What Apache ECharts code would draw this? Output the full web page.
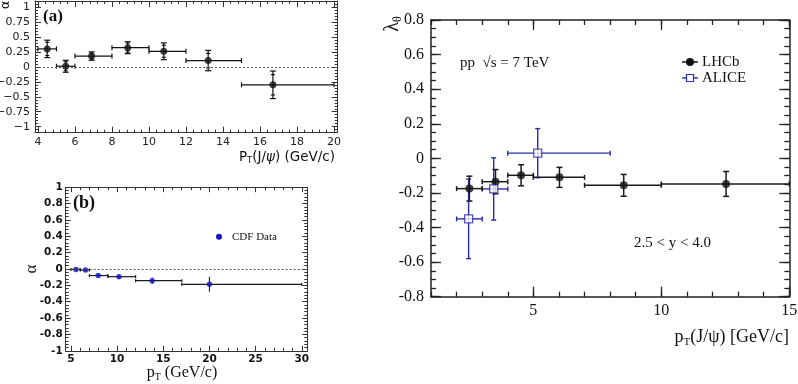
<!DOCTYPE html>
<html lang="en">
<head>
<meta charset="UTF-8">
<title>J/psi polarisation</title>
<script src="https://cdn.jsdelivr.net/npm/echarts@6.0.0/dist/echarts.min.js"></script>
<style>
  html, body { margin: 0; padding: 0; background: #fff; }
  #main { width: 798px; height: 384px; }
</style>
</head>
<body>
<div id="main"></div>
<script>
// ---- panel (a): alpha vs pT ----
var aX    = [4.5, 5.5, 6.9, 8.85, 10.8, 13.2, 16.7];
var aY    = [0.30, 0.01, 0.18, 0.32, 0.26, 0.105, -0.30];
var aXLo  = [4, 5, 6, 8, 10, 12, 15];
var aXHi  = [5, 6, 8, 10, 12, 15, 20];
var aErr  = [0.145, 0.10, 0.07, 0.10, 0.14, 0.17, 0.23];
var aStat = [0.11, 0.075, 0.05, 0.075, 0.10, 0.12, 0.17];
var aXTicks = [4, 6, 8, 10, 12, 14, 16, 18, 20];
var aYTicks = [-1, -0.75, -0.5, -0.25, 0, 0.25, 0.5, 0.75, 1];

// ---- panel (b): CDF data ----
var bX    = [5.54, 6.58, 7.95, 10.2, 13.8, 20.0];
var bY    = [-0.005, -0.012, -0.08, -0.094, -0.143, -0.187];
var bXLo  = [5, 6, 7, 9, 12, 17];
var bXHi  = [6, 7, 9, 12, 17, 30];
var bErr  = [0.02, 0.02, 0.02, 0.025, 0.04, 0.09];
var bXTicks = [5, 10, 15, 20, 25, 30];
var bYTicks = [-1, -0.8, -0.6, -0.4, -0.2, 0, 0.2, 0.4, 0.6, 0.8, 1];

// ---- panel (c): lambda_theta, LHCb vs ALICE ----
var lhcbX   = [2.5, 3.52, 4.52, 6.02, 8.53, 12.53];
var lhcbY   = [-0.175, -0.135, -0.098, -0.11, -0.156, -0.148];
var lhcbXLo = [2, 3, 4, 5, 7, 10];
var lhcbXHi = [3, 4, 5, 7, 10, 15];
var lhcbErr = [0.072, 0.07, 0.061, 0.058, 0.063, 0.072];
var aliceX   = [2.47, 3.45, 5.17];
var aliceY   = [-0.35, -0.177, 0.03];
var aliceXLo = [2, 3, 4];
var aliceXHi = [3, 4, 8];
var aliceErr = [0.23, 0.18, 0.142];
var cXTicks = [5, 10, 15];
var cYTicks = [-0.8, -0.6, -0.4, -0.2, 0, 0.2, 0.4, 0.6, 0.8];

function steps(from, to, step) {
  var out = [];
  for (var v = from; v <= to + 1e-9; v += step) out.push(Math.round(v * 1e6) / 1e6);
  return out;
}

var grids = [], xAxes = [], yAxes = [];
// each panel = two grids on the same rect: one for the frame + major ticks
// (series live here), one for the minor ticks only
function frame(rect, o) {
  var g = grids.length;
  rect.outerBoundsMode = 'none';   // v6 would otherwise squeeze the grid to fit labels
  rect.containLabel = false;
  grids.push(rect, Object.assign({}, rect));
  var xi = xAxes.length, yi = yAxes.length;
  var line = { show: true, onZero: false, lineStyle: { color: o.color, width: o.lineW } };
  var noLine = { show: false, onZero: false };
  var tk = function (vals, len) {
    return { show: true, inside: true, length: len, customValues: vals, lineStyle: { color: o.color, width: o.tickW } };
  };
  var bx = function (gi) { return { type: 'value', gridIndex: gi, min: o.xr[0], max: o.xr[1], splitLine: { show: false } }; };
  var by = function (gi) { return { type: 'value', gridIndex: gi, min: o.yr[0], max: o.yr[1], splitLine: { show: false } }; };
  xAxes.push(
    Object.assign(bx(g), { position: 'bottom', axisLine: line, axisTick: tk(o.xMaj, o.majLen),
      axisLabel: Object.assign({ customValues: o.xMaj, margin: o.xMargin, formatter: o.xFmt }, o.label) }),
    Object.assign(bx(g), { position: 'top', axisLine: line, axisTick: tk(o.xMaj, o.majLen), axisLabel: { show: false } }),
    Object.assign(bx(g + 1), { position: 'bottom', axisLine: noLine, axisTick: tk(o.xMin, o.minLen), axisLabel: { show: false } }),
    Object.assign(bx(g + 1), { position: 'top', axisLine: noLine, axisTick: tk(o.xMin, o.minLen), axisLabel: { show: false } })
  );
  yAxes.push(
    Object.assign(by(g), { position: 'left', axisLine: line, axisTick: tk(o.yMaj, o.majLen),
      axisLabel: Object.assign({ customValues: o.yMaj, margin: o.yMargin, formatter: o.yFmt }, o.label) }),
    Object.assign(by(g), { position: 'right', axisLine: line, axisTick: tk(o.yMaj, o.majLen), axisLabel: { show: false } }),
    Object.assign(by(g + 1), { position: 'left', axisLine: noLine, axisTick: tk(o.yMin, o.minLen), axisLabel: { show: false } }),
    Object.assign(by(g + 1), { position: 'right', axisLine: noLine, axisTick: tk(o.yMin, o.minLen), axisLabel: { show: false } })
  );
  return { x: xi, y: yi };
}

var fa = frame({ left: 35, top: 1, width: 302.7, height: 131.7 }, {
  xr: [3.84, 20.2], yr: [-1.1, 1.1], xMaj: aXTicks, xMin: steps(4, 20, 0.4),
  yMaj: aYTicks, yMin: steps(-1.1, 1.1, 0.05), majLen: 6, minLen: 3, color: '#333', lineW: 1, tickW: 1,
  xMargin: 4, yMargin: 5,
  xFmt: function (v) { return String(v); },
  yFmt: function (v) { return v < 0 ? '\u2212' + String(-v) : String(v); },
  label: { fontFamily: 'DejaVu Sans', fontSize: 11, color: '#222' }
});
var fb = frame({ left: 65.7, top: 187.2, width: 241.6, height: 163.6 }, {
  xr: [4.43, 30.6], yr: [-1, 1], xMaj: bXTicks, xMin: steps(5, 30, 1),
  yMaj: bYTicks, yMin: steps(-1, 1, 0.04), majLen: 5, minLen: 3, color: '#333', lineW: 1, tickW: 1,
  xMargin: 3, yMargin: 3,
  xFmt: function (v) { return String(v); },
  yFmt: function (v) { return String(v); },
  label: { fontFamily: 'DejaVu Sans', fontWeight: 'bold', fontSize: 10.5, color: '#111' }
});
var fc = frame({ left: 431, top: 20, width: 358.3, height: 276.7 }, {
  xr: [1, 15], yr: [-0.8, 0.8], xMaj: cXTicks, xMin: steps(1, 15, 1),
  yMaj: cYTicks, yMin: steps(-0.8, 0.8, 0.05), majLen: 10, minLen: 5, color: '#222', lineW: 1.5, tickW: 1.3,
  xMargin: 6, yMargin: 7,
  xFmt: function (v) { return String(v); },
  yFmt: function (v) { return v === 0 ? '0' : v.toFixed(1); },
  label: { fontFamily: 'Liberation Serif', fontSize: 16, color: '#111' }
});

function errSeries(ax, xs, ys, xlo, xhi, err, stat, o) {
  var data = xs.map(function (x, i) {
    return [x, ys[i], xlo[i], xhi[i], ys[i] - err[i], ys[i] + err[i],
      stat ? ys[i] - stat[i] : NaN, stat ? ys[i] + stat[i] : NaN];
  });
  return {
    type: 'custom', xAxisIndex: ax.x, yAxisIndex: ax.y, data: data, z: 2, clip: false,
    encode: { x: 0, y: 1 },
    renderItem: function (params, api) {
      var x = api.value(0), y = api.value(1);
      var l = api.coord([api.value(2), y]), r = api.coord([api.value(3), y]);
      var b = api.coord([x, api.value(4)]), t = api.coord([x, api.value(5)]);
      var hs = { stroke: o.hColor, lineWidth: o.w };
      var vs = { stroke: o.vColor, lineWidth: o.w };
      var seg = function (x1, y1, x2, y2, s) { return { type: 'line', shape: { x1: x1, y1: y1, x2: x2, y2: y2 }, style: s }; };
      var kids = [seg(l[0], l[1], r[0], r[1], hs), seg(t[0], t[1], b[0], b[1], vs)];
      if (o.hcap) {
        kids.push(seg(l[0], l[1] - o.hcap, l[0], l[1] + o.hcap, hs));
        kids.push(seg(r[0], r[1] - o.hcap, r[0], r[1] + o.hcap, hs));
      }
      if (o.vcap) {
        kids.push(seg(t[0] - o.vcap, t[1], t[0] + o.vcap, t[1], vs));
        kids.push(seg(b[0] - o.vcap, b[1], b[0] + o.vcap, b[1], vs));
      }
      if (!isNaN(api.value(6))) {
        var s1 = api.coord([x, api.value(6)]), s2 = api.coord([x, api.value(7)]);
        kids.push(seg(s1[0] - o.scap, s1[1], s1[0] + o.scap, s1[1], vs));
        kids.push(seg(s2[0] - o.scap, s2[1], s2[0] + o.scap, s2[1], vs));
      }
      return { type: 'group', children: kids };
    }
  };
}

function pts(ax, xs, ys, o) {
  return Object.assign({
    type: 'scatter', xAxisIndex: ax.x, yAxisIndex: ax.y, z: 3, silent: true,
    data: xs.map(function (x, i) { return [x, ys[i]]; })
  }, o);
}

var zeroLine = {
  silent: true, symbol: 'none', label: { show: false },
  lineStyle: { color: '#555', type: [2, 2], width: 1 },
  data: [{ yAxis: 0 }]
};

var serif = 'Liberation Serif';
var chart = echarts.init(document.getElementById('main'), null, { renderer: 'canvas' });
chart.setOption({
  animation: false,
  backgroundColor: '#fff',
  grid: grids,
  xAxis: xAxes,
  yAxis: yAxes,
  series: [
    errSeries(fa, aX, aY, aXLo, aXHi, aErr, aStat, { hColor: '#111', vColor: '#111', w: 1.2, hcap: 2.5, vcap: 3, scap: 2 }),
    pts(fa, aX, aY, { symbol: 'circle', symbolSize: 7, itemStyle: { color: '#111' }, markLine: zeroLine }),

    errSeries(fb, bX, bY, bXLo, bXHi, bErr, null, { hColor: '#1a1a1a', vColor: '#22225a', w: 1.2, hcap: 1.5, vcap: 0 }),
    pts(fb, bX, bY, { symbol: 'circle', symbolSize: 5.5, itemStyle: { color: '#1515c8' }, markLine: zeroLine }),

    errSeries(fc, aliceX, aliceY, aliceXLo, aliceXHi, aliceErr, null, { hColor: '#2b2ba8', vColor: '#2b2ba8', w: 1.4, hcap: 2.5, vcap: 2.5 }),
    errSeries(fc, lhcbX, lhcbY, lhcbXLo, lhcbXHi, lhcbErr, null, { hColor: '#1a1a1a', vColor: '#1a1a1a', w: 1.5, hcap: 2.5, vcap: 3 }),
    pts(fc, lhcbX, lhcbY, { symbol: 'circle', symbolSize: 8, itemStyle: { color: '#111' } }),
    pts(fc, aliceX, aliceY, { symbol: 'rect', symbolSize: 8, itemStyle: { color: '#fff', borderColor: '#2b2ba8', borderWidth: 1.3 } })
  ],
  graphic: [
    // panel (a) labels
    { type: 'text', x: 43, y: 17, style: { text: '(a)', font: 'bold 17px "Liberation Serif"', fill: '#111', verticalAlign: 'middle' } },
    { type: 'text', x: 6, y: 5, rotation: Math.PI / 2, style: { text: '\u03b1', font: '13px "DejaVu Sans"', fill: '#111', align: 'center', verticalAlign: 'middle' } },
    { type: 'text', x: 335, y: 157, style: {
      text: '{m|P}{s|T}{m|(J/}{i|\u03c8}{m|) (GeV/c)}', align: 'right', verticalAlign: 'middle',
      rich: {
        m: { fontFamily: 'DejaVu Sans', fontSize: 13.5, lineHeight: 18, fill: '#111' },
        i: { fontFamily: 'DejaVu Sans', fontStyle: 'italic', fontSize: 13.5, lineHeight: 18, fill: '#111' },
        s: { fontFamily: 'DejaVu Sans', fontSize: 8.5, lineHeight: 9, padding: [7, 0, 0, 0], fill: '#111' }
      } } },

    // panel (b) labels
    { type: 'text', x: 73, y: 203, style: { text: '(b)', font: 'bold 18px "Liberation Serif"', fill: '#111', verticalAlign: 'middle' } },
    { type: 'text', x: 32, y: 269, rotation: Math.PI / 2, style: { text: '\u03b1', font: '17px "Liberation Serif"', fill: '#111', align: 'center', verticalAlign: 'middle' } },
    { type: 'circle', shape: { cx: 219, cy: 236.7, r: 3 }, style: { fill: '#1515c8' } },
    { type: 'text', x: 232, y: 237, style: { text: 'CDF Data', font: '11px "Liberation Serif"', fill: '#111', verticalAlign: 'middle' } },
    { type: 'text', x: 182, y: 373, style: {
      text: '{m|p}{s|T}{m| (GeV/c)}', align: 'center', verticalAlign: 'middle',
      rich: {
        m: { fontFamily: serif, fontSize: 16, lineHeight: 20, fill: '#111' },
        s: { fontFamily: serif, fontSize: 10, lineHeight: 10, padding: [8, 0, 0, 0], fill: '#111' }
      } } },

    // panel (c) labels
    { type: 'text', x: 393, y: 24, rotation: Math.PI / 2, style: {
      text: '{m|\u03bb}{s|\u03b8}', align: 'center', verticalAlign: 'middle',
      rich: {
        m: { fontFamily: serif, fontSize: 20, lineHeight: 24, fill: '#111' },
        s: { fontFamily: serif, fontSize: 12, lineHeight: 12, padding: [10, 0, 0, 0], fill: '#111' }
      } } },
    { type: 'text', x: 789, y: 337, style: {
      text: '{m|p}{s|T}{m|(J/\u03c8) [GeV/c]}', align: 'right', verticalAlign: 'middle',
      rich: {
        m: { fontFamily: serif, fontSize: 18, lineHeight: 22, fill: '#111' },
        s: { fontFamily: serif, fontSize: 11, lineHeight: 11, padding: [10, 0, 0, 0], fill: '#111' }
      } } },
    { type: 'text', x: 460, y: 63, style: { text: 'pp  \u221as = 7 TeV', font: '15px "Liberation Serif"', fill: '#111', verticalAlign: 'middle' } },
    { type: 'text', x: 634, y: 243, style: { text: '2.5 < y < 4.0', font: '15px "Liberation Serif"', fill: '#111', verticalAlign: 'middle' } },
    { type: 'line', shape: { x1: 682, y1: 62, x2: 698, y2: 62 }, style: { stroke: '#111', lineWidth: 1.5 } },
    { type: 'circle', shape: { cx: 690, cy: 62, r: 4 }, style: { fill: '#111' } },
    { type: 'text', x: 702, y: 62, style: { text: 'LHCb', font: '15px "Liberation Serif"', fill: '#111', verticalAlign: 'middle' } },
    { type: 'line', shape: { x1: 682, y1: 78, x2: 698, y2: 78 }, style: { stroke: '#2b2ba8', lineWidth: 1.4 } },
    { type: 'rect', shape: { x: 686.5, y: 74.5, width: 7, height: 7 }, style: { fill: '#fff', stroke: '#2b2ba8', lineWidth: 1.2 } },
    { type: 'text', x: 702, y: 78, style: { text: 'ALICE', font: '15px "Liberation Serif"', fill: '#111', verticalAlign: 'middle' } }
  ]
});
</script>
</body>
</html>
